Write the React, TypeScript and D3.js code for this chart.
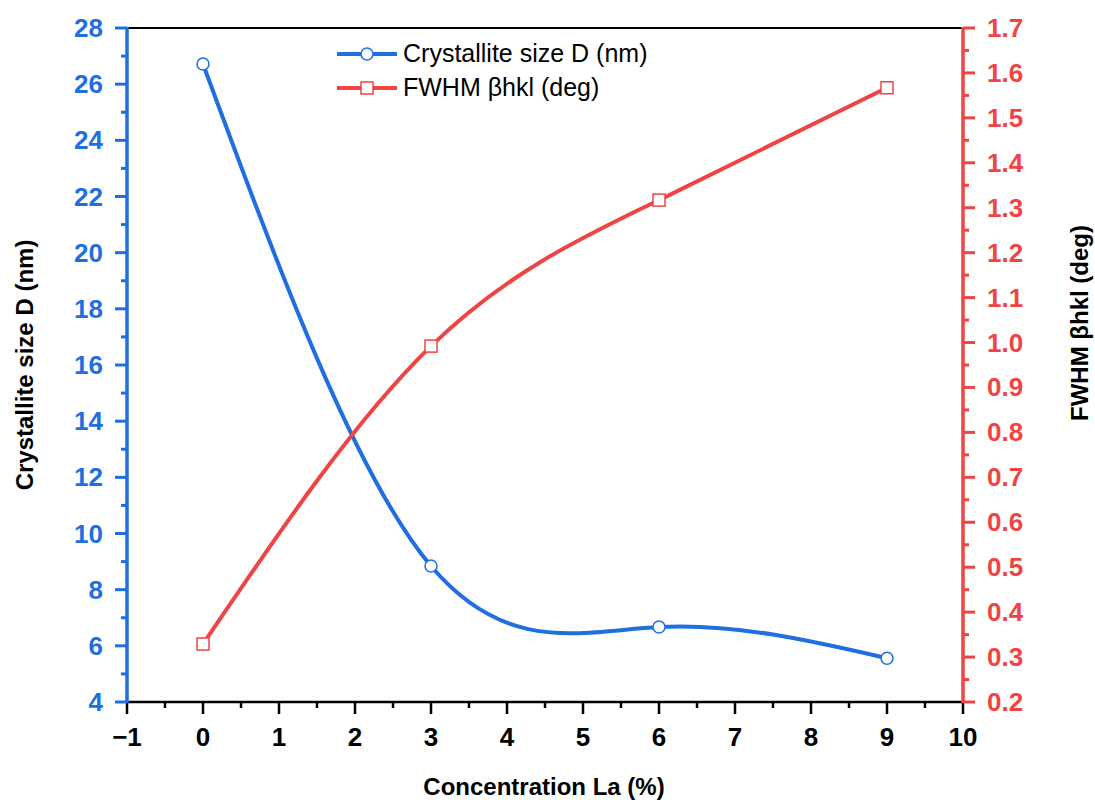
import React from "react";
import * as d3 from "d3";

const concentration = [0, 3, 6, 9];
const crystalliteSize = [26.72, 8.84, 6.67, 5.56];
const fwhm = [0.329, 0.992, 1.317, 1.567];
const xTicks = [-1, 0, 1, 2, 3, 4, 5, 6, 7, 8, 9, 10];
const yLeftTicks = [4, 6, 8, 10, 12, 14, 16, 18, 20, 22, 24, 26, 28];
const yRightTicks = [0.2, 0.3, 0.4, 0.5, 0.6, 0.7, 0.8, 0.9, 1.0, 1.1, 1.2, 1.3, 1.4, 1.5, 1.6, 1.7];

const BLUE = "#1f6fe0";
const RED = "#f04444";
const FONT = "Liberation Sans, Arial, sans-serif";

export default function App() {
  const W = 1095, H = 800;
  const left = 127, right = 963, top = 28, bottom = 702;
  const x = d3.scaleLinear().domain([-1, 10]).range([left, right]);
  const yL = d3.scaleLinear().domain([4, 28]).range([bottom, top]);
  const yR = d3.scaleLinear().domain([0.2, 1.7]).range([bottom, top]);

  const blueLine = d3.line<number>().x((_, i) => x(concentration[i])).y((d) => yL(d)).curve(d3.curveNatural);
  const redLine = d3.line<number>().x((_, i) => x(concentration[i])).y((d) => yR(d)).curve(d3.curveNatural);

  const xMinor = d3.range(-0.5, 10, 1);
  const yLMinor = d3.range(5, 28, 2);
  const yRMinor = d3.range(0.25, 1.7, 0.1);

  return (
    <svg width={W} height={H} style={{ display: "block", position: "absolute", left: 0, top: 0 }} fontFamily={FONT}>
      <rect width={W} height={H} fill="#fff" />
      {/* top frame */}
      <line x1={left} x2={right} y1={top} y2={top} stroke="#000" strokeWidth={2} />

      {/* curves */}
      <path d={blueLine(crystalliteSize) || ""} fill="none" stroke={BLUE} strokeWidth={4} />
      <path d={redLine(fwhm) || ""} fill="none" stroke={RED} strokeWidth={4} />
      {crystalliteSize.map((d, i) => (
        <circle key={"c" + i} cx={x(concentration[i])} cy={yL(d)} r={6} fill="#fff" stroke={BLUE} strokeWidth={1.5} />
      ))}
      {fwhm.map((d, i) => (
        <rect key={"s" + i} x={x(concentration[i]) - 6} y={yR(d) - 6} width={12} height={12} fill="#fff" stroke={RED} strokeWidth={1.5} />
      ))}

      {/* bottom axis */}
      <line x1={left} x2={right} y1={bottom} y2={bottom} stroke="#000" strokeWidth={2.5} />
      {xTicks.map((t) => (
        <g key={"xt" + t}>
          <line x1={x(t)} x2={x(t)} y1={bottom} y2={bottom + 12} stroke="#000" strokeWidth={2.5} />
          <text x={x(t)} y={bottom + 44} textAnchor="middle" fontSize={26} fontWeight="bold" fill="#000">
            {t < 0 ? "\u2212" + Math.abs(t) : t}
          </text>
        </g>
      ))}
      {xMinor.map((t) => (
        <line key={"xm" + t} x1={x(t)} x2={x(t)} y1={bottom} y2={bottom + 6} stroke="#000" strokeWidth={2.5} />
      ))}

      {/* left axis */}
      <line x1={left} x2={left} y1={top - 1} y2={bottom + 1} stroke={BLUE} strokeWidth={3.5} />
      {yLeftTicks.map((t) => (
        <g key={"yl" + t}>
          <line x1={left} x2={left - 12} y1={yL(t)} y2={yL(t)} stroke={BLUE} strokeWidth={3} />
          <text x={left - 24} y={yL(t) + 9} textAnchor="end" fontSize={26} fontWeight="bold" fill={BLUE}>
            {t}
          </text>
        </g>
      ))}
      {yLMinor.map((t) => (
        <line key={"ylm" + t} x1={left} x2={left - 6} y1={yL(t)} y2={yL(t)} stroke={BLUE} strokeWidth={3} />
      ))}

      {/* right axis */}
      <line x1={right} x2={right} y1={top - 1} y2={bottom + 1} stroke={RED} strokeWidth={3.5} />
      {yRightTicks.map((t) => (
        <g key={"yr" + t}>
          <line x1={right} x2={right + 12} y1={yR(t)} y2={yR(t)} stroke={RED} strokeWidth={3} />
          <text x={right + 24} y={yR(t) + 9} textAnchor="start" fontSize={26} fontWeight="bold" fill={RED}>
            {t.toFixed(1)}
          </text>
        </g>
      ))}
      {yRMinor.map((t) => (
        <line key={"yrm" + t} x1={right} x2={right + 6} y1={yR(t)} y2={yR(t)} stroke={RED} strokeWidth={3} />
      ))}

      {/* axis titles */}
      <text x={544} y={795} textAnchor="middle" fontSize={24} fontWeight="bold" fill="#000">
        Concentration La (%)
      </text>
      <text transform={`translate(33, 365) rotate(-90)`} textAnchor="middle" fontSize={24} fontWeight="bold" fill="#000">
        Crystallite size D (nm)
      </text>
      <text transform={`translate(1088, 323) rotate(-90)`} textAnchor="middle" fontSize={24} fontWeight="bold" fill="#000">
        FWHM βhkl (deg)
      </text>

      {/* legend */}
      <g>
        <line x1={337} x2={397} y1={54} y2={54} stroke={BLUE} strokeWidth={4} />
        <circle cx={367} cy={54} r={6} fill="#fff" stroke={BLUE} strokeWidth={1.5} />
        <text x={403} y={62} fontSize={25} fill="#000">Crystallite size D (nm)</text>
        <line x1={337} x2={397} y1={88} y2={88} stroke={RED} strokeWidth={4} />
        <rect x={361} y={82} width={12} height={12} fill="#fff" stroke={RED} strokeWidth={1.5} />
        <text x={403} y={96} fontSize={25} fill="#000">FWHM βhkl (deg)</text>
      </g>
    </svg>
  );
}
